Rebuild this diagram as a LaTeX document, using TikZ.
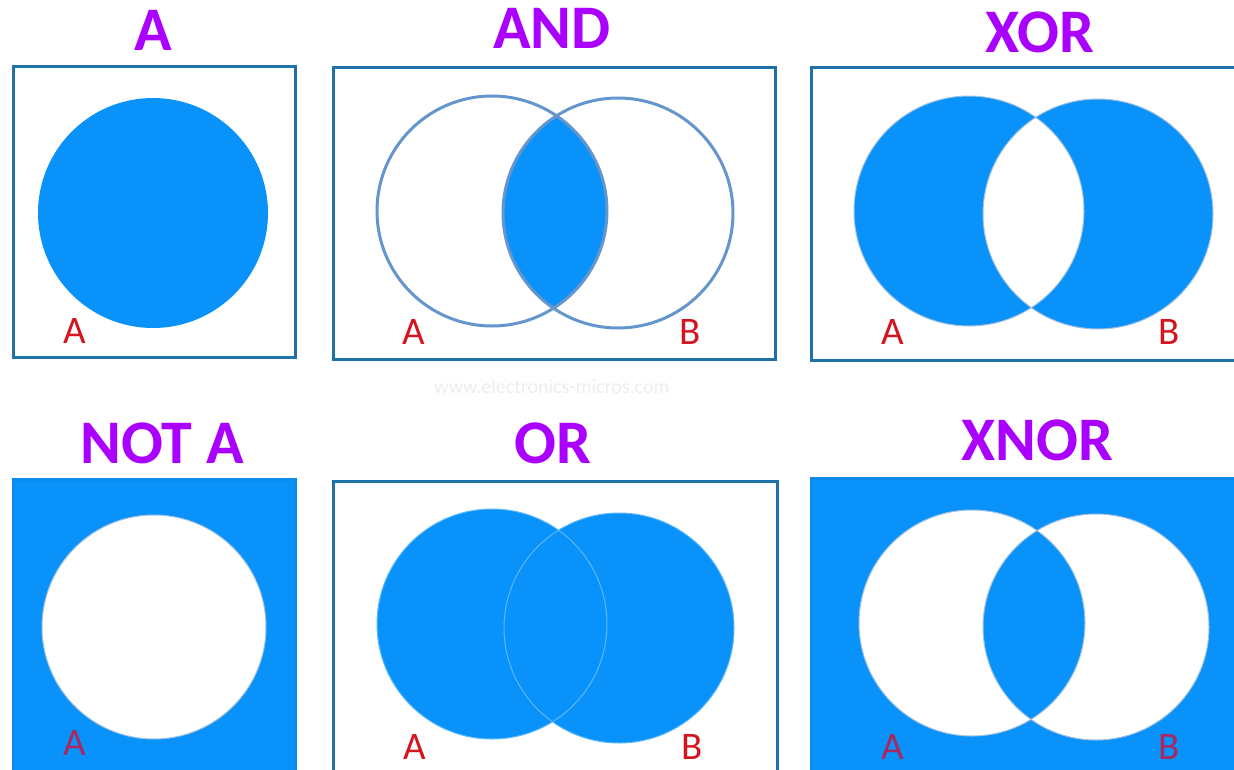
\documentclass[tikz,border=0pt]{standalone}
\usepackage{fontspec}
\setmainfont{Carlito}
\usetikzlibrary{positioning}

\definecolor{vennblue}{RGB}{8,146,250}
\definecolor{boxblue}{RGB}{30,112,170}
\definecolor{ringblue}{RGB}{100,150,205}
\definecolor{titlepurple}{RGB}{170,0,255}
\definecolor{labelred}{RGB}{212,20,30}
\definecolor{labeldim}{RGB}{170,40,95}

\begin{document}
\begin{tikzpicture}[
			x=1pt,y=-1pt,
			title/.style={
				font=\bfseries\fontsize{62}{62}\selectfont,
				text=titlepurple,
				inner sep=0pt
			},
			setlabel/.style={
				font=\fontsize{39}{39}\selectfont,
				text=labelred,
				inner sep=0pt
			},
			panel/.style={
				draw=boxblue,
				line width=3pt
			},
			ring/.style={
				draw=ringblue,
				line width=3pt
			},
			rim/.style={
				draw=ringblue!60!white,
				line width=1pt
			},
			watermark/.style={
				font=\fontsize{20}{20}\selectfont,
				text=black!7,
				inner sep=0pt
			}
			]

			\useasboundingbox (0,0) rectangle (1234,769);
			\clip (0,0) rectangle (1234,769);

			% 上排：A, AND, XOR
			\node[title] (tA) at (153,30) {A};
			\draw[panel] (13,66) rectangle (295,357);
			\fill[vennblue] (153,213) circle[radius=115];
			\node[setlabel] (lA1) at (75,331) {A};

			\node[title] (tAND) at (552,28) {AND};
			\draw[panel] (333,67) rectangle (775,359);
			\begin{scope}
				\clip (492,211) circle[radius=115];
				\fill[vennblue] (618,213) circle[radius=115];
			\end{scope}
			\draw[ring] (492,211) circle[radius=115];
			\draw[ring] (618,213) circle[radius=115];
			\node[setlabel] (lA2) at (414,332) {A};
			\node[setlabel] (lB2) at (690,332) {B};

			\node[title] (tXOR) at (1040,32) {XOR};
			\draw[panel] (811,67) rectangle (1260,360);
			\fill[vennblue,even odd rule] (969,211) circle[radius=115]
				(1098,214) circle[radius=115];
			\draw[rim] (969,211) circle[radius=115];
			\draw[rim] (1098,214) circle[radius=115];
			\node[setlabel] (lA3) at (893,332) {A};
			\node[setlabel] (lB3) at (1169,332) {B};

			\node[watermark] (site) at (552,387) {www.electronics-micros.com};

			% 下排：NOT A, OR, XNOR
			\node[title] (tNOT) at (162,443) {NOT A};
			\fill[vennblue] (13,479) rectangle (295,790);
			\draw[panel,draw=vennblue!80!boxblue] (13,479) rectangle (295,790);
			\fill[white] (154,627) circle[radius=112];
			\draw[rim] (154,627) circle[radius=112];
			\node[setlabel,text=labeldim] (lA4) at (75,743) {A};

			\node[title] (tOR) at (553,443) {OR};
			\draw[panel] (333,481) rectangle (777,790);
			\fill[vennblue] (492,624) circle[radius=115];
			\fill[vennblue] (619,628) circle[radius=115];
			\draw[rim,draw=vennblue!65!white] (492,624) circle[radius=115];
			\draw[rim,draw=vennblue!65!white] (619,628) circle[radius=115];
			\node[setlabel] (lA5) at (415,747) {A};
			\node[setlabel] (lB5) at (692,747) {B};

			\node[title] (tXNOR) at (1037,440) {XNOR};
			\fill[vennblue] (811,478) rectangle (1260,790);
			\draw[panel,draw=vennblue!80!boxblue] (811,478) rectangle (1260,790);
			\fill[white,even odd rule] (972,623) circle[radius=113]
				(1096,627) circle[radius=113];
			\draw[rim] (972,623) circle[radius=113];
			\draw[rim] (1096,627) circle[radius=113];
			\node[setlabel,text=labeldim] (lA6) at (893,747) {A};
			\node[setlabel,text=labeldim] (lB6) at (1169,747) {B};

		\end{tikzpicture}
\end{document}
